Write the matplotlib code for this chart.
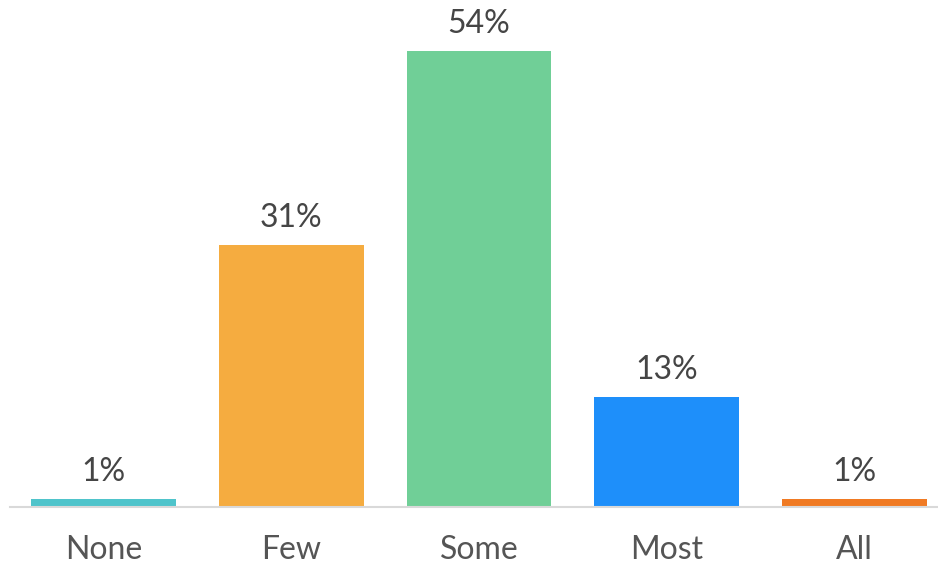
import matplotlib
matplotlib.use("Agg")
import matplotlib.pyplot as plt

categories = ["None", "Few", "Some", "Most", "All"]
values = [1, 31, 54, 13, 1]
labels = ["1%", "31%", "54%", "13%", "1%"]
colors = ["#4FC4CB", "#F5AC40", "#70CF97", "#1E8FFA", "#F07A23"]

W, H = 938, 565
fig = plt.figure(figsize=(W / 100, H / 100), dpi=100)
left_px, right_px = 9.6, 948.4
base_px = 507
px_per_unit = (507 - 51) / 54.0
ax = fig.add_axes([left_px / W, (H - base_px) / H, (right_px - left_px) / W, base_px / H])
ax.set_xlim(-0.5, 4.5)
ax.set_ylim(0, base_px / px_per_unit)

x = range(len(categories))
ax.bar(x, values, width=0.772, color=colors, zorder=2)
for xi, v, lab in zip(x, values, labels):
    ax.text(xi, v + 12 / px_per_unit, lab, ha="center", va="bottom",
            fontsize=23, color="#454545", family="Lato")

for s in ["top", "right", "left"]:
    ax.spines[s].set_visible(False)
ax.spines["bottom"].set_color("#D9D9D9")
ax.spines["bottom"].set_linewidth(1.5)
ax.spines["bottom"].set_zorder(3)
ax.set_yticks([])
ax.set_xticks(list(x))
ax.set_xticklabels(categories, fontsize=23, color="#555555", family="Lato")
ax.tick_params(axis="x", length=0, pad=20)
ax.patch.set_alpha(0)

fig.savefig("out.png", dpi=100)
